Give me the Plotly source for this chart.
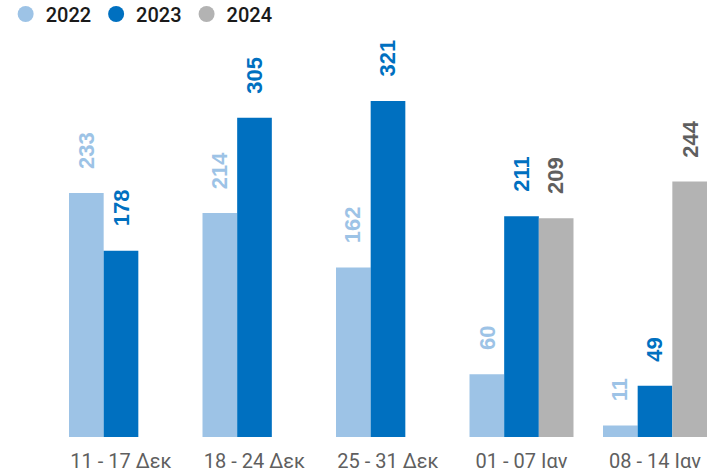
import plotly.graph_objects as go

weeks = ["11 - 17 Δεκ", "18 - 24 Δεκ", "25 - 31 Δεκ", "01 - 07 Ιαν", "08 - 14 Ιαν"]
years = ["2022", "2023", "2024"]
values_2022 = [233, 214, 162, 60, 11]
values_2023 = [178, 305, 321, 211, 49]
values_2024 = [None, None, None, 209, 244]

bar_colors = ["#9DC3E6", "#0070C0", "#B3B3B3"]
text_colors = ["#9DC3E6", "#0070C0", "#5F5F5F"]

series = [values_2022, values_2023, values_2024]

# pixel geometry used to place the rotated value labels over each bar
cat_px = 133.5
bargap = 0.221
bar_px = cat_px * (1 - bargap) / 3

fig = go.Figure()

for i, (year, vals) in enumerate(zip(years, series)):
    fig.add_trace(
        go.Bar(
            x=weeks,
            y=vals,
            name=year,
            marker=dict(color=bar_colors[i], line=dict(width=0)),
            showlegend=False,
            hoverinfo="skip",
        )
    )
    # legend entry with round symbol
    fig.add_trace(
        go.Scatter(
            x=[None],
            y=[None],
            mode="markers",
            name=year,
            marker=dict(color=bar_colors[i], size=18, symbol="circle"),
            showlegend=True,
        )
    )

annotations = []
for i, vals in enumerate(series):
    for week, v in zip(weeks, vals):
        if v is None:
            continue
        annotations.append(
            dict(
                x=week,
                y=v,
                text=f"<b>{v}</b>",
                showarrow=False,
                textangle=-90,
                xanchor="center",
                yanchor="bottom",
                xshift=(i - 1) * bar_px,
                yshift=22,
                font=dict(family="Liberation Sans, Arial", size=22, color=text_colors[i]),
            )
        )

fig.update_layout(
    width=707,
    height=474,
    barmode="group",
    bargap=bargap,
    bargroupgap=0,
    margin=dict(l=0, r=0, t=40, b=37),
    paper_bgcolor="white",
    plot_bgcolor="white",
    annotations=annotations,
    legend=dict(
        orientation="h",
        x=0.008,
        xanchor="left",
        xref="container",
        y=1 - 14 / 474,
        yanchor="middle",
        yref="container",
        font=dict(family="Roboto", size=20, color="#1a1a1a", weight=500),
        itemsizing="trace",
        itemwidth=30,
        tracegroupgap=0,
    ),
)

fig.update_xaxes(
    range=[-121 / cat_px, (707 - 121) / cat_px],
    showline=False,
    showgrid=False,
    zeroline=False,
    ticks="",
    ticklabelstandoff=10,
    tickfont=dict(family="Roboto", size=20, color="#5F5F5F"),
)
fig.update_yaxes(
    range=[0, 397 / 1.0467],
    visible=False,
    showgrid=False,
    zeroline=False,
)

fig.write_html(
    "out.html",
    config={"displayModeBar": False},
    post_script="document.body.style.margin='0';document.body.style.overflow='hidden';",
)
